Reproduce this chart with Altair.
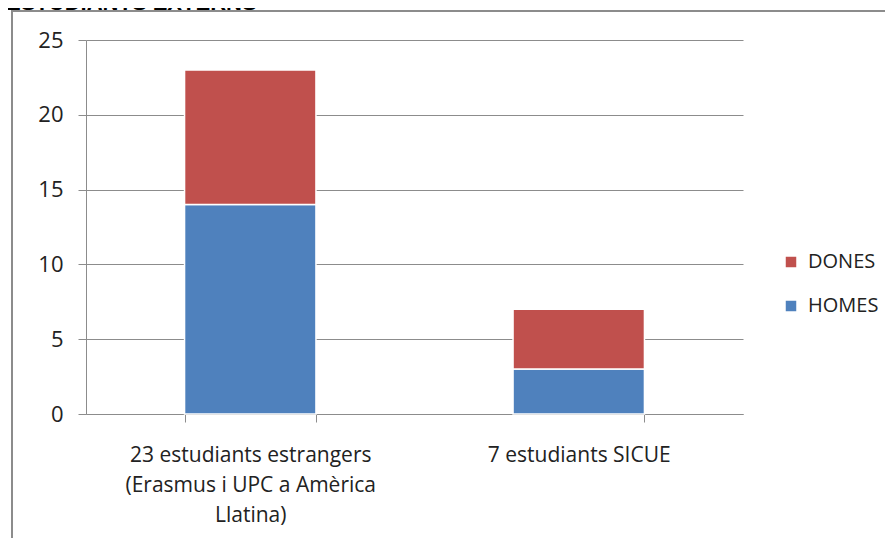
import altair as alt
import pandas as pd

categories = ["23 estudiants estrangers\n(Erasmus i UPC a Amèrica\nLlatina)", "7 estudiants SICUE"]
homes = [14, 3]
dones = [9, 4]
series = ["DONES", "HOMES"]
colors = ["#C0504D", "#4F81BD"]
y_ticks = [0, 5, 10, 15, 20, 25]
title_text = "ESTUDIANTS EXTERNS"

rows = []
for c, h, d in zip(categories, homes, dones):
    rows.append({"cat": c, "serie": "HOMES", "value": h, "ord": 0})
    rows.append({"cat": c, "serie": "DONES", "value": d, "ord": 1})
df = pd.DataFrame(rows)

FONT = "Open Sans"
TXT = "#222222"
GRID = "#8c8c8c"

bars = alt.Chart(df).mark_bar(stroke="white", strokeWidth=1.5).encode(
    x=alt.X("cat:N", sort=categories,
            scale=alt.Scale(paddingInner=0.6, paddingOuter=0.3),
            axis=alt.Axis(title=None, labelAngle=0,
                          labelExpr="split(datum.label, '\\n')",
                          tickBand="extent", tickSize=8, tickColor=GRID,
                          domainColor=GRID, labelFont=FONT, labelFontSize=21,
                          labelColor=TXT, labelLineHeight=30, labelPadding=22,
                          labelBaseline="top", labelLimit=0, grid=False)),
    y=alt.Y("value:Q", stack="zero", scale=alt.Scale(domain=[0, 25], nice=False),
            axis=alt.Axis(title=None, values=y_ticks, grid=True, gridColor=GRID,
                          tickSize=8, tickColor=GRID, domainColor=GRID,
                          labelFont=FONT, labelFontSize=22, labelColor=TXT,
                          labelPadding=15)),
    color=alt.Color("serie:N", scale=alt.Scale(domain=series, range=colors),
                    legend=alt.Legend(title=None, orient="none", legendX=695, legendY=212,
                                      symbolType="square", symbolSize=110,
                                      symbolStrokeWidth=0, labelFont=FONT,
                                      labelFontSize=20, labelColor=TXT,
                                      rowPadding=24, labelOffset=7)),
    order=alt.Order("ord:Q"),
)

one = pd.DataFrame({"t": [title_text]})
frame = alt.Chart(one).mark_rect(fill=None, stroke="#8c8c8c", strokeWidth=2).encode(
    x=alt.value(-74), x2=alt.value(950), y=alt.value(-29), y2=alt.value(700)
)
title = alt.Chart(one).mark_text(font="Liberation Sans", fontWeight="bold", fontSize=22,
                                 align="left", baseline="alphabetic", color="#000").encode(
    x=alt.value(-80), y=alt.value(-30), text="t:N"
)

chart = alt.layer(frame, bars, title).properties(
    width=657, height=374,
    autosize=alt.AutoSizeParams(type="none"),
    padding={"left": 78, "top": 32, "right": 142, "bottom": 124},
    background="white",
).configure_view(stroke=None)

chart.save("out.html", embed_options={"renderer": "svg", "actions": False})
